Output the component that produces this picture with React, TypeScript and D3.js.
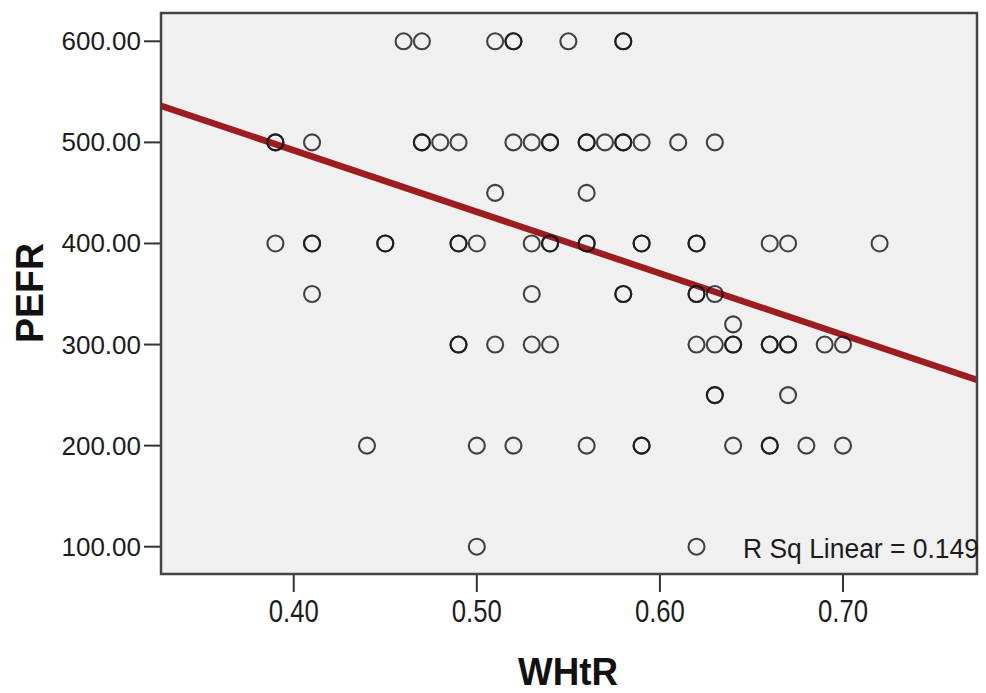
import React, { useEffect, useRef } from "react";
import * as d3 from "d3";

const pefrLevels = [600, 500, 450, 400, 350, 320, 300, 250, 200, 100];
const whtrAtLevel = [
  [0.46, 0.47, 0.51, 0.52, 0.52, 0.55, 0.58, 0.58],
  [0.39, 0.39, 0.41, 0.47, 0.47, 0.48, 0.49, 0.52, 0.53, 0.54, 0.54, 0.56, 0.56, 0.57, 0.58, 0.58, 0.59, 0.61, 0.63],
  [0.51, 0.56],
  [0.39, 0.41, 0.41, 0.45, 0.45, 0.49, 0.49, 0.5, 0.53, 0.54, 0.54, 0.56, 0.56, 0.59, 0.59, 0.62, 0.62, 0.66, 0.67, 0.72],
  [0.41, 0.53, 0.58, 0.58, 0.62, 0.62, 0.63],
  [0.64],
  [0.49, 0.49, 0.51, 0.53, 0.54, 0.62, 0.63, 0.64, 0.64, 0.66, 0.66, 0.67, 0.67, 0.69, 0.7],
  [0.63, 0.63, 0.67],
  [0.44, 0.5, 0.52, 0.56, 0.59, 0.59, 0.64, 0.66, 0.66, 0.68, 0.7],
  [0.5, 0.62],
];

const xTicks = [0.4, 0.5, 0.6, 0.7];
const yTicks = [100, 200, 300, 400, 500, 600];

// fit line as drawn in the picture
const fitIntercept = 735.6;
const fitSlope = -608.6;
const rSquared = "0.149";

const ScatterChart = () => {
  const svgRef = useRef<SVGSVGElement>(null);

  useEffect(() => {
    const w = 986;
    const h = 693;
    const left = 161;
    const right = 977;
    const top = 13;
    const bottom = 574;
    const font = "'Liberation Sans', Arial, sans-serif";

    const svg = d3.select(svgRef.current).attr("width", w).attr("height", h);
    svg.selectAll("*").remove();

    const x = d3.scaleLinear().domain([0.3275, 0.7732]).range([left, right]);
    const y = d3.scaleLinear().domain([73, 628]).range([bottom, top]);

    const points = pefrLevels.flatMap((p, i) => whtrAtLevel[i].map((v) => ({ whtr: v, pefr: p })));

    svg
      .append("rect")
      .attr("x", left)
      .attr("y", top)
      .attr("width", right - left)
      .attr("height", bottom - top)
      .attr("fill", "#f0f0f0");

    const plot = svg.append("g");
    plot
      .append("clipPath")
      .attr("id", "plotclip")
      .append("rect")
      .attr("x", left)
      .attr("y", top)
      .attr("width", right - left)
      .attr("height", bottom - top);

    // fit line
    const [x0, x1] = x.domain();
    plot
      .append("line")
      .attr("clip-path", "url(#plotclip)")
      .attr("x1", x(x0))
      .attr("y1", y(fitIntercept + fitSlope * x0))
      .attr("x2", x(x1))
      .attr("y2", y(fitIntercept + fitSlope * x1))
      .attr("stroke", "#9c1c20")
      .attr("stroke-width", 6.5);

    plot
      .selectAll("circle")
      .data(points)
      .join("circle")
      .attr("cx", (d) => x(d.whtr))
      .attr("cy", (d) => y(d.pefr))
      .attr("r", 8)
      .attr("fill", "none")
      .attr("stroke", "#151515")
      .attr("stroke-opacity", 0.8)
      .attr("stroke-width", 2.1);

    // y ticks
    const yg = svg.append("g");
    yg.selectAll("line")
      .data(yTicks)
      .join("line")
      .attr("x1", left - 17)
      .attr("x2", left)
      .attr("y1", (d) => y(d))
      .attr("y2", (d) => y(d))
      .attr("stroke", "#333")
      .attr("stroke-width", 2);
    yg.selectAll("text")
      .data(yTicks)
      .join("text")
      .text((d) => d3.format(".2f")(d))
      .attr("x", left - 20)
      .attr("y", (d) => y(d) + 9)
      .attr("text-anchor", "end")
      .attr("font-family", font)
      .attr("font-size", 26)
      .attr("fill", "#1c1c1c");

    // x ticks
    const xg = svg.append("g");
    xg.selectAll("line")
      .data(xTicks)
      .join("line")
      .attr("x1", (d) => x(d))
      .attr("x2", (d) => x(d))
      .attr("y1", bottom)
      .attr("y2", bottom + 18)
      .attr("stroke", "#333")
      .attr("stroke-width", 2);
    xg.selectAll("text")
      .data(xTicks)
      .join("text")
      .text((d) => d3.format(".2f")(d))
      .attr("x", (d) => x(d))
      .attr("y", 622)
      .attr("text-anchor", "middle")
      .attr("font-family", font)
      .attr("font-size", 31)
      .attr("textLength", 50)
      .attr("lengthAdjust", "spacingAndGlyphs")
      .attr("fill", "#1c1c1c");

    // frame
    svg
      .append("rect")
      .attr("x", left)
      .attr("y", top)
      .attr("width", right - left)
      .attr("height", bottom - top)
      .attr("fill", "none")
      .attr("stroke", "#444")
      .attr("stroke-width", 2.5);

    svg
      .append("text")
      .text(`R Sq Linear = ${rSquared}`)
      .attr("x", 743)
      .attr("y", 558)
      .attr("font-family", font)
      .attr("font-size", 27)
      .attr("textLength", 236)
      .attr("lengthAdjust", "spacingAndGlyphs")
      .attr("fill", "#1c1c1c");

    svg
      .append("text")
      .text("WHtR")
      .attr("x", 568)
      .attr("y", 685)
      .attr("text-anchor", "middle")
      .attr("font-family", font)
      .attr("font-weight", "bold")
      .attr("font-size", 39)
      .attr("textLength", 100)
      .attr("lengthAdjust", "spacingAndGlyphs")
      .attr("fill", "#111");

    svg
      .append("text")
      .text("PEFR")
      .attr("transform", "translate(43,293) rotate(-90)")
      .attr("text-anchor", "middle")
      .attr("font-family", font)
      .attr("font-weight", "bold")
      .attr("font-size", 39)
      .attr("textLength", 100)
      .attr("lengthAdjust", "spacingAndGlyphs")
      .attr("fill", "#111");
  }, []);

  return (
    <div style={{ position: "absolute", left: 0, top: 0, background: "#fff" }}>
      <svg ref={svgRef} style={{ display: "block" }}></svg>
    </div>
  );
};

export default function App() {
  return <ScatterChart />;
}
